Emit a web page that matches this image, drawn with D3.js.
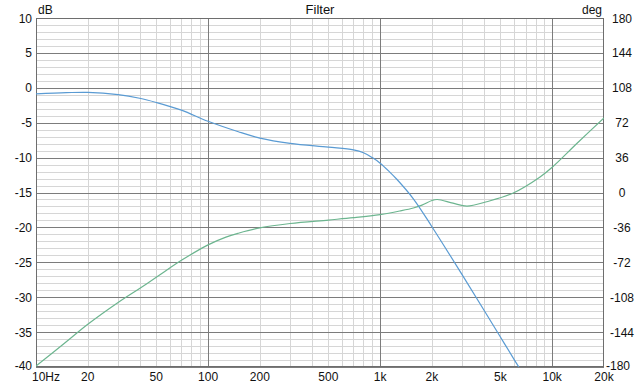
<!DOCTYPE html>
<html><head><meta charset="utf-8">
<script src="https://cdn.jsdelivr.net/npm/d3@7"></script>
<style>
html,body{margin:0;padding:0;background:#fff;}
svg{display:block;}
text{font-family:"Liberation Sans",Arial,sans-serif;font-size:12px;fill:#111;}
</style></head>
<body><svg id="c" width="639" height="383"></svg>
<script>
const title = "Filter";
const leftUnit = "dB", rightUnit = "deg";
const xTickValues = [10,20,50,100,200,500,1000,2000,5000,10000,20000];
const xTickLabels = ["10Hz","20","50","100","200","500","1k","2k","5k","10k","20k"];
const dbTicks = [10,5,0,-5,-10,-15,-20,-25,-30,-35,-40];
const degTicks = [180,144,108,72,36,0,-36,-72,-108,-144,-180];

const magFreq = [10,15,20,30,40,50,70,100,150,200,300,500,700,800,900,1000,1130,1250,1560,2000,3000,4000,5000,6000,6400];
const magDb   = [-0.87,-0.7,-0.65,-0.98,-1.5,-2.1,-3.2,-4.8,-6.3,-7.2,-7.95,-8.5,-8.9,-9.3,-10.0,-10.8,-12.0,-13.1,-15.9,-19.9,-26.8,-31.8,-35.7,-38.9,-40.0];

const phFreq = [10,15,20,30,40,50,70,100,127,150,200,300,500,700,1000,1300,1560,1750,2000,2150,2650,3200,4160,5900,8500,10000,14000,20000];
const phDeg  = [-179,-154,-136,-113.5,-99,-87.5,-70,-54,-46,-42,-36.5,-32,-28.4,-26,-22.8,-19.1,-16,-13,-8.2,-7.2,-11,-14,-9.5,-0.8,16,26,51,77];

const L=36,R=604,T=18,B=367;
const svg = d3.select("#c");
const x = d3.scaleLog().domain([10,20000]).range([L,R]);
const yL = d3.scaleLinear().domain([-40,10]).range([B,T]);
const yR = d3.scaleLinear().domain([-180,180]).range([B,T]);

const g = svg.append("g");
// minor grid
const minorX = [];
for (let d=10; d<=10000; d*=10) for (let k=2;k<=9;k++){ const v=d*k; if(v<20000) minorX.push(v); }
g.selectAll(".mx").data(minorX).enter().append("line")
 .attr("x1",d=>Math.round(x(d))+0.5).attr("x2",d=>Math.round(x(d))+0.5).attr("y1",T).attr("y2",B)
 .attr("stroke","#d6d6d6").attr("stroke-width",1);
const minorY = d3.range(-40,11,1).filter(v=>v%5!==0);
g.selectAll(".my").data(minorY).enter().append("line")
 .attr("y1",d=>Math.round(yL(d))+0.5).attr("y2",d=>Math.round(yL(d))+0.5).attr("x1",L).attr("x2",R)
 .attr("stroke","#d6d6d6").attr("stroke-width",1);
// major grid
g.selectAll(".Mx").data([100,1000,10000]).enter().append("line")
 .attr("x1",d=>Math.round(x(d))+0.5).attr("x2",d=>Math.round(x(d))+0.5).attr("y1",T).attr("y2",B)
 .attr("stroke","#7c7c7c").attr("stroke-width",1);
g.selectAll(".My").data(dbTicks).enter().append("line")
 .attr("y1",d=>Math.round(yL(d))+0.5).attr("y2",d=>Math.round(yL(d))+0.5).attr("x1",L).attr("x2",R)
 .attr("stroke","#7c7c7c").attr("stroke-width",1);
// frame
svg.append("rect").attr("x",L+0.5).attr("y",T+0.5).attr("width",R-L-1).attr("height",B-T-1)
 .attr("fill","none").attr("stroke","#6e6e6e");

// curves
svg.append("clipPath").attr("id","pc").append("rect").attr("x",L).attr("y",T).attr("width",R-L).attr("height",B-T);
const lineL = d3.line().x(d=>x(d[0])).y(d=>yL(d[1])).curve(d3.curveCatmullRom.alpha(0.5));
const lineR = d3.line().x(d=>x(d[0])).y(d=>yR(d[1])).curve(d3.curveCatmullRom.alpha(0.5));
svg.append("path").attr("clip-path","url(#pc)").attr("d",lineR(phFreq.map((f,i)=>[f,phDeg[i]])))
 .attr("fill","none").attr("stroke","#6cb58f").attr("stroke-width",1.2);
svg.append("path").attr("clip-path","url(#pc)").attr("d",lineL(magFreq.map((f,i)=>[f,magDb[i]])))
 .attr("fill","none").attr("stroke","#5a9bd3").attr("stroke-width",1.2);

// axes labels
svg.selectAll(".yl").data(dbTicks).enter().append("text")
 .attr("x",32).attr("y",(d,i)=>yL(d)+(i===dbTicks.length-1?3:4.5)).attr("text-anchor","end").text(d=>d);
svg.selectAll(".yr").data(degTicks).enter().append("text")
 .attr("x",(d,i)=>i===degTicks.length-1?618:622).attr("y",(d,i)=>yR(d)+(i===degTicks.length-1?2.5:4.5)).attr("text-anchor","middle").text(d=>d);
svg.selectAll(".xl").data(xTickValues).enter().append("text")
 .attr("x",(d,i)=>i===0?32:x(d)).attr("y",380.5).attr("text-anchor",(d,i)=>i===0?"start":"middle")
 .text((d,i)=>xTickLabels[i]);
svg.append("text").attr("x",(L+R)/2).attr("y",14).attr("text-anchor","middle").style("font-size","13px").text(title);
svg.append("text").attr("x",38).attr("y",14).text(leftUnit);
svg.append("text").attr("x",602).attr("y",14).attr("text-anchor","end").text(rightUnit);
</script></body></html>
